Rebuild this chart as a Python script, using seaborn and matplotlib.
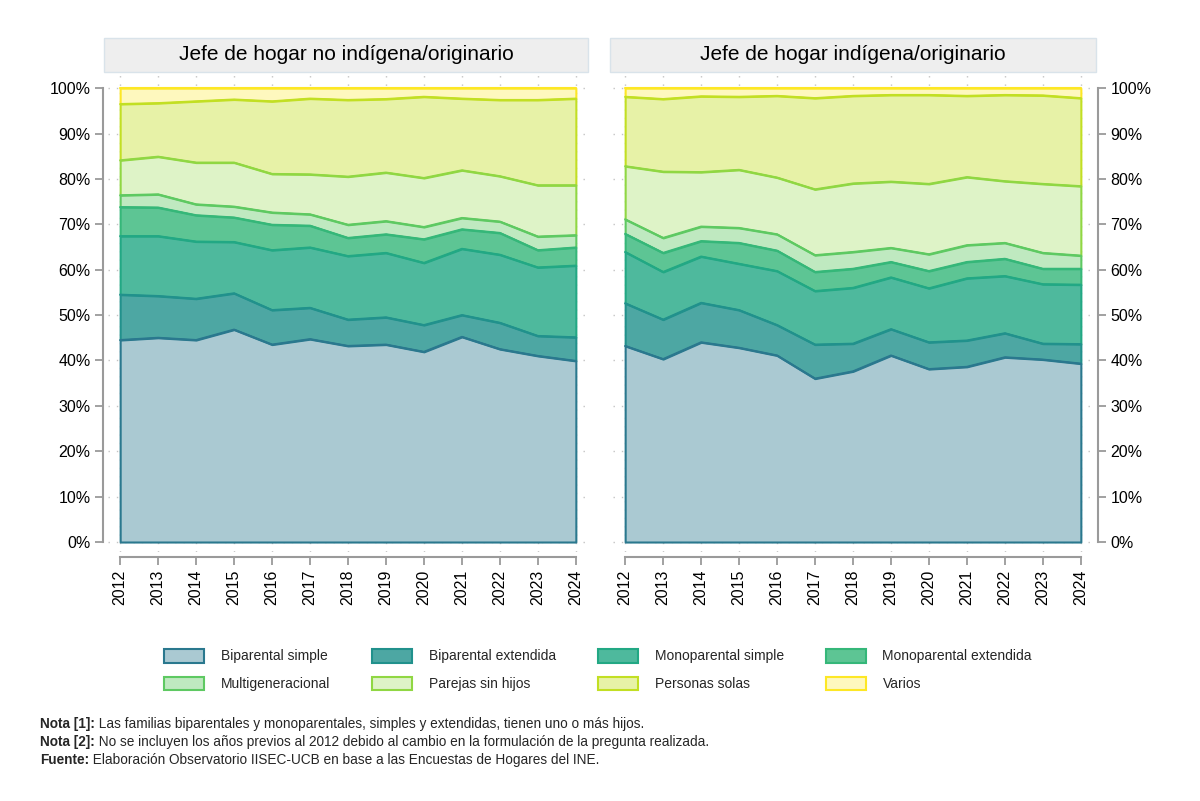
import numpy as np
import pandas as pd
import matplotlib
matplotlib.use("Agg")
import matplotlib.pyplot as plt
import seaborn as sns
from matplotlib.patches import Rectangle, Patch
from matplotlib.colors import to_rgb, to_hex

# ---------------- data ----------------
years = [2012, 2013, 2014, 2015, 2016, 2017, 2018, 2019, 2020, 2021, 2022, 2023, 2024]
categories = ["Biparental simple", "Biparental extendida", "Monoparental simple",
              "Monoparental extendida", "Multigeneracional", "Parejas sin hijos",
              "Personas solas", "Varios"]
panel_titles = ["Jefe de hogar no indígena/originario", "Jefe de hogar indígena/originario"]
y_ticks = [0, 10, 20, 30, 40, 50, 60, 70, 80, 90, 100]

# Jefe de hogar no indígena/originario (% of households)
noind_biparental_simple = [44.5, 45.0, 44.5, 46.8, 43.5, 44.7, 43.2, 43.5, 41.9, 45.2, 42.5, 41.0, 39.9]
noind_biparental_ext = [10.0, 9.2, 9.1, 8.0, 7.6, 6.9, 5.8, 6.0, 5.9, 4.8, 5.8, 4.4, 5.2]
noind_monoparental_simple = [12.9, 13.2, 12.6, 11.3, 13.2, 13.3, 14.0, 14.2, 13.7, 14.6, 15.0, 15.1, 15.8]
noind_monoparental_ext = [6.4, 6.3, 5.8, 5.4, 5.6, 4.8, 4.0, 4.1, 5.2, 4.3, 4.8, 3.8, 4.0]
noind_multigeneracional = [2.6, 2.9, 2.4, 2.4, 2.7, 2.5, 2.9, 2.9, 2.7, 2.5, 2.5, 3.0, 2.7]
noind_parejas = [7.7, 8.3, 9.2, 9.7, 8.5, 8.8, 10.6, 10.7, 10.8, 10.5, 10.0, 11.3, 11.0]
noind_solas = [12.4, 11.8, 13.5, 13.9, 16.0, 16.7, 16.9, 16.2, 17.9, 15.8, 16.8, 18.8, 19.1]
noind_varios = [3.5, 3.3, 2.9, 2.5, 2.9, 2.3, 2.6, 2.4, 1.9, 2.3, 2.6, 2.6, 2.3]

# Jefe de hogar indígena/originario (% of households)
ind_biparental_simple = [43.2, 40.3, 44.0, 42.8, 41.1, 36.0, 37.6, 41.1, 38.1, 38.6, 40.7, 40.2, 39.3]
ind_biparental_ext = [9.4, 8.7, 8.7, 8.3, 6.7, 7.5, 6.1, 5.8, 5.9, 5.8, 5.3, 3.5, 4.3]
ind_monoparental_simple = [11.3, 10.5, 10.2, 10.2, 11.9, 11.8, 12.3, 11.4, 11.9, 13.7, 12.6, 13.1, 13.1]
ind_monoparental_ext = [4.0, 4.2, 3.4, 4.6, 4.5, 4.2, 4.2, 3.4, 3.8, 3.6, 3.8, 3.4, 3.5]
ind_multigeneracional = [3.2, 3.3, 3.2, 3.3, 3.6, 3.7, 3.7, 3.1, 3.7, 3.7, 3.5, 3.5, 2.9]
ind_parejas = [11.7, 14.6, 12.0, 12.8, 12.5, 14.5, 15.1, 14.6, 15.5, 15.0, 13.6, 15.2, 15.3]
ind_solas = [15.3, 16.0, 16.7, 16.1, 18.0, 20.1, 19.3, 19.1, 19.6, 17.9, 19.0, 19.5, 19.4]
ind_varios = [1.9, 2.4, 1.8, 1.9, 1.7, 2.2, 1.7, 1.5, 1.5, 1.7, 1.5, 1.6, 2.2]

panels = [
    [noind_biparental_simple, noind_biparental_ext, noind_monoparental_simple, noind_monoparental_ext,
     noind_multigeneracional, noind_parejas, noind_solas, noind_varios],
    [ind_biparental_simple, ind_biparental_ext, ind_monoparental_simple, ind_monoparental_ext,
     ind_multigeneracional, ind_parejas, ind_solas, ind_varios],
]

# ---------------- style ----------------
edge_colors = ["#2a788e", "#21918c", "#22a884", "#35b779", "#5ec962", "#90d743", "#c2df23", "#fde725"]
fill_alpha = [0.4, 0.8, 0.8, 0.8, 0.4, 0.3, 0.4, 0.3]


def blend(c, a):
    r = np.array(to_rgb(c))
    return to_hex(a * r + (1 - a) * np.ones(3))


fill_colors = [blend(c, a) for c, a in zip(edge_colors, fill_alpha)]

sns.set_theme(style="white")
plt.rcParams["font.family"] = ["Liberation Sans", "DejaVu Sans"]

W, H = 1200, 801
fig = plt.figure(figsize=(W / 100, H / 100), dpi=100)
fig.patch.set_facecolor("white")

gray = "#9a9a9a"
axes_px = [(108, 480), (613, 480)]
ax_top, ax_bot = 75, 552
title_boxes = [(104, 588), (610, 1096)]

for p, (x0, w) in enumerate(axes_px):
    ax = fig.add_axes([x0 / W, 1 - ax_bot / H, w / W, (ax_bot - ax_top) / H])
    ax.set_facecolor("white")
    vals = panels[p]
    cum = np.zeros(len(years))
    layers = []
    for k, v in enumerate(vals):
        lower = cum.copy()
        cum = cum + np.array(v)
        layers.append((lower, cum.copy()))
    # draw top layers first so each layer's upper edge stays on top
    for k in reversed(range(len(vals))):
        lower, upper = layers[k]
        z = 2 + (len(vals) - k) * 0.1
        ax.fill_between(years, lower, upper, facecolor=fill_colors[k],
                        edgecolor=edge_colors[k], linewidth=1.5, zorder=z)
        df = pd.DataFrame({"year": years, "value": upper})
        sns.lineplot(data=df, x="year", y="value", ax=ax, color=edge_colors[k],
                     linewidth=1.5, zorder=z + 0.05, legend=False)

    ax.set_xlim(2011.68, 2024.32)
    ax.set_ylim(-2.2, 102.9)
    ax.set_xlabel("")
    ax.set_ylabel("")
    # dotted grid
    for yv in y_ticks:
        ax.axhline(yv, color="#c4c4c4", lw=1.0, ls=(0, (1, 5)), zorder=1)
    for xv in years:
        ax.axvline(xv, color="#c4c4c4", lw=1.0, ls=(0, (1, 5)), zorder=1)
    ax.grid(False)

    ax.set_xticks(years)
    ax.set_xticklabels([str(y) for y in years])
    ax.set_yticks(y_ticks)
    ax.set_yticklabels([f"{v}%" for v in y_ticks])

    for s in ["top", "left", "right", "bottom"]:
        ax.spines[s].set_visible(False)
    ax.spines["bottom"].set_visible(True)
    ax.spines["bottom"].set_position(("outward", 3.6))
    ax.spines["bottom"].set_bounds(2012, 2024)
    ax.spines["bottom"].set_color(gray)
    ax.spines["bottom"].set_linewidth(1.5)
    side = "left" if p == 0 else "right"
    ax.spines[side].set_visible(True)
    ax.spines[side].set_position(("outward", 3.6))
    ax.spines[side].set_bounds(0, 100)
    ax.spines[side].set_color(gray)
    ax.spines[side].set_linewidth(1.5)
    if p == 1:
        ax.yaxis.tick_right()
        ax.yaxis.set_label_position("right")
    else:
        ax.yaxis.tick_left()
    ax.tick_params(axis="y", which="major", length=6, width=1.3, color=gray,
                   pad=3, labelcolor="black", labelsize=11.5, left=(p == 0), right=(p == 1),
                   labelleft=(p == 0), labelright=(p == 1))
    ax.tick_params(axis="x", which="major", length=6, width=1.3, color=gray,
                   pad=3, labelcolor="black", labelsize=11.5, bottom=True, labelrotation=90)
    for lab in ax.get_xticklabels():
        lab.set_rotation(90)
        lab.set_va("top")
        lab.set_ha("center")

    # title box
    bx0, bx1 = title_boxes[p]
    fig.add_artist(Rectangle((bx0 / W, 1 - 72 / H), (bx1 - bx0) / W, 34 / H,
                             transform=fig.transFigure, facecolor="#eeeeee",
                             edgecolor="#d9e3ea", linewidth=1.0))
    fig.text((bx0 + bx1) / 2 / W, 1 - 55 / H, panel_titles[p], ha="center", va="center",
             fontsize=15, color="black")

# legend
order = [0, 4, 1, 5, 2, 6, 3, 7]
handles = [Patch(facecolor=fill_colors[i], edgecolor=edge_colors[i], linewidth=1.5,
                 label=categories[i]) for i in order]
fig.legend(handles=handles, loc="center", bbox_to_anchor=(598 / W, 1 - 670 / H), ncol=4,
           frameon=False, fontsize=10, handlelength=2.9, handleheight=1.15,
           handletextpad=1.2, columnspacing=3.0, labelspacing=0.95)

# notes
notes = [
    ("Nota [1]:", " Las familias biparentales y monoparentales, simples y extendidas, tienen uno o más hijos."),
    ("Nota [2]:", " No se incluyen los años previos al 2012 debido al cambio en la formulación de la pregunta realizada."),
    ("Fuente:", " Elaboración Observatorio IISEC-UCB en base a las Encuestas de Hogares del INE."),
]
renderer = fig.canvas.get_renderer()
for i, (b, t) in enumerate(notes):
    yy = 1 - (724 + 18 * i) / H
    tb = fig.text(40 / W, yy, b, fontsize=9.8, fontweight="bold", va="center", ha="left")
    bb = tb.get_window_extent(renderer=renderer)
    fig.text(bb.x1 / W, yy, t, fontsize=9.8, va="center", ha="left")

fig.savefig("out.png", dpi=100, facecolor="white")
